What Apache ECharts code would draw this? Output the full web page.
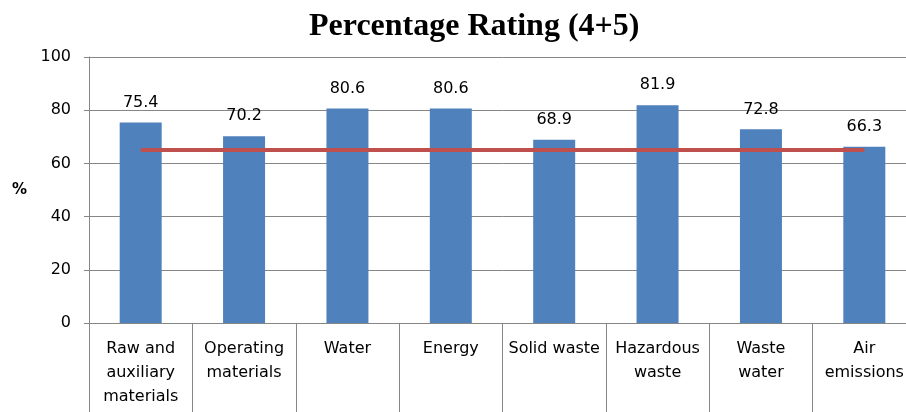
<!DOCTYPE html>
<html><head><meta charset="utf-8">
<script src="https://cdn.jsdelivr.net/npm/echarts@6/dist/echarts.min.js"></script>
<style>html,body{margin:0;padding:0;background:#fff;overflow:hidden;width:906px;height:412px}#c{width:920px;height:412px}</style>
</head><body><div id="c"></div>
<script>
const categories = ["Raw and\nauxiliary\nmaterials","Operating\nmaterials","Water","Energy","Solid waste","Hazardous\nwaste","Waste\nwater","Air\nemissions"];
const ratingValues = [75.4, 70.2, 80.6, 80.6, 68.9, 81.9, 72.8, 66.3];
const thresholdValues = [65, 65, 65, 65, 65, 65, 65, 65];
const yTicks = {min: 0, max: 100, interval: 20};

const chart = echarts.init(document.getElementById('c'), null, {renderer: 'canvas'});
const font = 'DejaVu Sans';
chart.setOption({
  animation: false,
  title: {
    text: 'Percentage Rating (4+5)', left: 304, top: 6,
    textStyle: {fontFamily: 'Liberation Serif', fontWeight: 'bold', fontSize: 32, color: '#000'}
  },
  grid: {left: 89, top: 57, right: 4, bottom: 89, containLabel: false},
  xAxis: {
    type: 'category', data: categories, boundaryGap: true,
    axisLine: {show: true, lineStyle: {color: '#868686', width: 1}},
    axisTick: {show: true, length: 92, lineStyle: {color: '#868686', width: 1}},
    axisLabel: {interval: 0, margin: 14, fontFamily: font, fontSize: 16, lineHeight: 24, color: '#000'}
  },
  yAxis: {
    type: 'value', min: yTicks.min, max: yTicks.max, interval: yTicks.interval,
    name: '%', nameLocation: 'middle', nameRotate: 0, nameGap: 62,
    nameTextStyle: {fontFamily: font, fontSize: 15, fontWeight: 'bold', color: '#000'},
    axisLine: {show: true, lineStyle: {color: '#868686', width: 1}},
    axisTick: {show: true, length: 5, lineStyle: {color: '#868686'}},
    axisLabel: {margin: 18, fontFamily: font, fontSize: 16, color: '#000'},
    splitLine: {show: true, lineStyle: {color: '#868686', width: 1}}
  },
  series: [
    {
      type: 'bar', data: ratingValues, barWidth: 42,
      itemStyle: {color: '#4F81BD'},
      label: {show: true, position: 'top', distance: 12, fontFamily: font, fontSize: 16, color: '#000',
        formatter: p => p.value.toFixed(1)}
    },
    {
      type: 'line', data: thresholdValues, symbol: 'none',
      lineStyle: {color: '#C0504D', width: 4}, z: 5
    }
  ]
});
</script></body></html>
